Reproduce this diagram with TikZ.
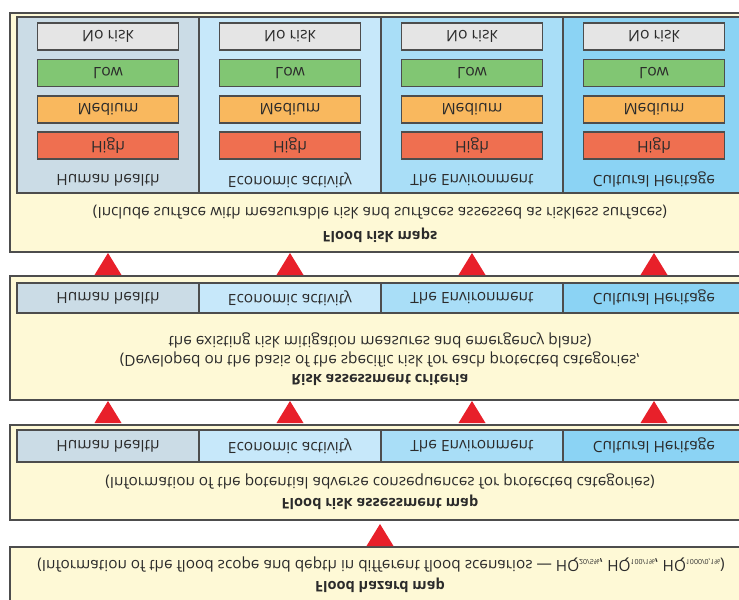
\documentclass[tikz,border=0pt]{standalone}
\usepackage{color}
\usepackage{fontspec}
\setmainfont{Open Sans}
\usepackage{tikz}
\usetikzlibrary{shapes, arrows, positioning}

\definecolor{panelfill}{HTML}{FEF9D6}
\definecolor{healthfill}{HTML}{CBDCE6}
\definecolor{econfill}{HTML}{C7E8FA}
\definecolor{envfill}{HTML}{A9DEF7}
\definecolor{heritfill}{HTML}{8BD3F4}
\definecolor{norisk}{HTML}{E5E5E5}
\definecolor{lowrisk}{HTML}{81C673}
\definecolor{medrisk}{HTML}{F9B85E}
\definecolor{highrisk}{HTML}{EF6F50}
\definecolor{arrowred}{HTML}{E8202A}
\definecolor{edge}{HTML}{4D4D4D}
\definecolor{ink}{HTML}{2B2B2B}

\newcommand{\pxlen}{0.25mm}
\newcommand{\hqsub}[1]{HQ{\fontsize{5}{6}\selectfont\raisebox{-0.4ex}{#1}}}

\begin{document}
\begin{tikzpicture}[x=0.25mm, y=0.25mm, yscale=-1, transform shape,
        panel/.style={draw=edge, line width=0.45mm, fill=panelfill, inner sep=0pt},
        catcol/.style={draw=edge, line width=0.35mm, inner sep=0pt, text=ink, font=\fontsize{11}{13}\selectfont},
        riskbox/.style={draw=edge, line width=0.45mm, inner sep=0pt, minimum width=141*\pxlen, minimum height=27*\pxlen, text=ink, font=\fontsize{11.2}{13}\selectfont},
        catlabel/.style={text=ink, font=\fontsize{11}{13}\selectfont},
        desc/.style={text=ink, font=\fontsize{10.9}{13}\selectfont},
        maptitle/.style={text=ink, font=\bfseries\fontsize{10.4}{12}\selectfont}]
        \useasboundingbox (0,0) rectangle (739,599);
        \clip (0,0) rectangle (739,599);

        % Panels
        \node (riskmaps) [panel, minimum width=736*\pxlen, minimum height=239*\pxlen] at (378,132.5) {};
        \node (criteria) [panel, minimum width=736*\pxlen, minimum height=124*\pxlen] at (378,338) {};
        \node (assessmap) [panel, minimum width=736*\pxlen, minimum height=95*\pxlen] at (378,472.5) {};
        \node (hazardmap) [panel, minimum width=736*\pxlen, minimum height=73*\pxlen] at (378,583.5) {};

        % Protected categories
        \foreach \colfill/\catname [count=\i] in {healthfill/Human health, econfill/Economic activity, envfill/The Environment, heritfill/Cultural Heritage} {
            \node (mapcol\i) [catcol, minimum width=182*\pxlen, minimum height=176*\pxlen, fill=\colfill] at (-74+182*\i,105) {};
            \node (maplabel\i) [catlabel] at (-74+182*\i,180) {\catname};
            \node (norisk\i) [riskbox, fill=norisk] at (-74+182*\i,36.5) {No risk};
            \node (low\i) [riskbox, fill=lowrisk] at (-74+182*\i,73) {Low};
            \node (medium\i) [riskbox, fill=medrisk] at (-74+182*\i,109.5) {Medium};
            \node (high\i) [riskbox, fill=highrisk] at (-74+182*\i,145.5) {High};
            \node (critcol\i) [catcol, minimum width=182*\pxlen, minimum height=30*\pxlen, fill=\colfill] at (-74+182*\i,298) {\catname};
            \node (assesscol\i) [catcol, minimum width=182*\pxlen, minimum height=32*\pxlen, fill=\colfill] at (-74+182*\i,446) {\catname};
        }

        % Texts
        \node (mapsdesc) [desc] at (380,212) {(Include surface with measurable risk and surfaces assessed as riskless surfaces)};
        \node (mapstitle) [maptitle] at (380,235) {Flood risk maps};
        \node (critdesc2) [desc] at (380,340) {the existing risk mitigation measures and emergency plans)};
        \node (critdesc1) [desc] at (380,360) {(Developed on the basis of the specific risk for each protected categories,};
        \node (crittitle) [maptitle] at (380,380) {Risk assessment criteria};
        \node (assessdesc) [desc] at (380,482) {(Information of the potential adverse consequences for protected categories)};
        \node (assesstitle) [maptitle] at (380,502) {Flood risk assessment map};
        \node (hazarddesc) [desc] at (381,565) {(Information of the flood scope and depth in different flood scenarios --- \hqsub{20/5\%}, \hqsub{100/1\%}, \hqsub{1000/0,1\%})};
        \node (hazardtitle) [maptitle] at (380,585) {Flood hazard map};

        % Arrows
        \foreach \cx in {108,290,472,654} {
            \fill[arrowred] (\cx-13.5,275) -- (\cx,253) -- (\cx+13.5,275) -- cycle;
            \fill[arrowred] (\cx-13.5,423) -- (\cx,401) -- (\cx+13.5,423) -- cycle;
        }
        \fill[arrowred] (366.5,546) -- (380,524) -- (393.5,546) -- cycle;
    \end{tikzpicture}
\end{document}
